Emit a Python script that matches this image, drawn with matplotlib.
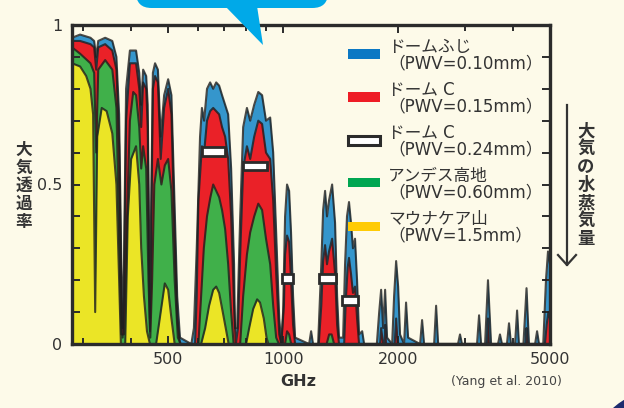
import matplotlib
matplotlib.use("Agg")
import matplotlib.pyplot as plt
from matplotlib.patches import FancyBboxPatch, Polygon, Rectangle, Circle
from matplotlib.ticker import FixedLocator, NullFormatter

plt.rcParams["font.family"] = ["DejaVu Sans", "Noto Sans CJK JP"]

# ---- data (frequency in GHz, transmission 0-1) ----
freq_fuji = [280, 294, 313, 320, 324, 328, 342, 357, 366, 372, 377, 380, 383, 388,
             397, 412, 420, 425, 430, 438, 442, 445, 448, 451, 456, 462, 470, 478,
             488, 500, 510, 518, 528, 537, 575, 584, 594, 606, 613, 621, 632, 644,
             656, 668, 680, 692, 705, 718, 731, 744, 748, 758, 772, 786, 804, 820,
             840, 861, 881, 902, 925, 942, 959, 977, 989, 1000, 1012, 1024, 1037,
             1049, 1062, 1075, 1170, 1184, 1198, 1235, 1259, 1273, 1288, 1303, 1319,
             1344, 1368, 1385, 1401, 1436, 1453, 1470, 1488, 1506, 1524, 1543, 1562,
             1581, 1611, 1630, 1760, 1785, 1806, 1828, 1850, 1872, 1930, 1953, 1977,
             2001, 2024, 2074, 2099, 2125, 2284, 2312, 2340, 2486, 2516, 2547, 2871,
             2906, 2941, 3220, 3260, 3300, 3380, 3440, 3505, 3654, 3698, 3743, 3857,
             3905, 3952, 4050, 4100, 4146, 4260, 4340, 4405, 4570, 4625, 4680, 4800,
             4880, 4940, 5000]
trans_fuji = [0.96, 0.97, 0.96, 0.95, 0.90, 0.95, 0.96, 0.95, 0.90, 0.72, 0.25, 0.05,
              0.25, 0.80, 0.92, 0.92, 0.85, 0.75, 0.86, 0.84, 0.75, 0.40, 0.08, 0.40,
              0.85, 0.88, 0.86, 0.65, 0.78, 0.83, 0.78, 0.50, 0.15, 0.02, 0.0, 0.05,
              0.30, 0.65, 0.74, 0.70, 0.80, 0.82, 0.80, 0.82, 0.81, 0.78, 0.75, 0.72,
              0.55, 0.25, 0.05, 0.05, 0.40, 0.68, 0.74, 0.70, 0.75, 0.79, 0.78, 0.70,
              0.71, 0.60, 0.35, 0.08, 0.0, 0.10, 0.40, 0.50, 0.48, 0.35, 0.15, 0.02,
              0.0, 0.04, 0.0, 0.0, 0.25, 0.42, 0.48, 0.40, 0.45, 0.50, 0.38, 0.15,
              0.02, 0.02, 0.25, 0.40, 0.445, 0.38, 0.30, 0.33, 0.20, 0.03, 0.04, 0.0,
              0.0, 0.10, 0.17, 0.05, 0.17, 0.02, 0.0, 0.15, 0.26, 0.18, 0.03, 0.0,
              0.13, 0.02, 0.0, 0.075, 0.0, 0.0, 0.12, 0.0, 0.0, 0.03, 0.0, 0.0, 0.09,
              0.0, 0.0, 0.20, 0.0, 0.0, 0.03, 0.0, 0.0, 0.065, 0.0, 0.0, 0.105, 0.0,
              0.0, 0.175, 0.0, 0.0, 0.04, 0.0, 0.0, 0.20, 0.29, 0.25]

freq_domec = [280, 294, 313, 320, 324, 328, 342, 357, 366, 372, 377, 380, 383, 388,
              397, 412, 420, 425, 430, 438, 442, 445, 448, 451, 456, 462, 470, 478,
              488, 500, 510, 518, 528, 537, 588, 594, 600, 613, 621, 632, 644, 656,
              668, 680, 692, 705, 718, 731, 744, 752, 762, 772, 786, 804, 820, 840,
              861, 881, 902, 925, 942, 959, 977, 989, 1005, 1012, 1024, 1037, 1049,
              1062, 1075, 1240, 1259, 1273, 1288, 1303, 1319, 1344, 1368, 1385, 1401,
              1445, 1460, 1476, 1488, 1506, 1524, 1543, 1562, 1581, 1795, 1806, 1828,
              1845, 1850, 1860, 1960, 1977, 1995, 3420, 3440, 3460, 4320, 4340, 4360,
              4850, 4900, 4950, 5000]
trans_domec = [0.95, 0.95, 0.94, 0.93, 0.86, 0.93, 0.94, 0.92, 0.86, 0.62, 0.15,
               0.02, 0.15, 0.70, 0.88, 0.88, 0.80, 0.68, 0.82, 0.80, 0.68, 0.30, 0.04,
               0.30, 0.80, 0.84, 0.82, 0.58, 0.74, 0.80, 0.72, 0.40, 0.08, 0.0, 0.0,
               0.15, 0.45, 0.62, 0.60, 0.70, 0.73, 0.74, 0.73, 0.72, 0.68, 0.65, 0.58,
               0.40, 0.12, 0.0, 0.05, 0.28, 0.55, 0.62, 0.58, 0.65, 0.70, 0.69, 0.60,
               0.58, 0.45, 0.22, 0.03, 0.0, 0.12, 0.28, 0.34, 0.32, 0.20, 0.06, 0.0,
               0.0, 0.12, 0.26, 0.31, 0.25, 0.29, 0.33, 0.22, 0.06, 0.0, 0.0, 0.14,
               0.24, 0.27, 0.22, 0.16, 0.18, 0.08, 0.0, 0.0, 0.05, 0.0, 0.0, 0.06, 0.0,
               0.0, 0.08, 0.0, 0.0, 0.08, 0.0, 0.0, 0.05, 0.0, 0.0, 0.06, 0.10, 0.08]

freq_andes = [280, 294, 313, 320, 324, 328, 342, 357, 366, 372, 377, 383, 388, 397,
              405, 412, 420, 425, 430, 438, 444, 449, 454, 460, 470, 480, 490, 500,
              510, 520, 530, 540, 600, 610, 620, 632, 645, 656, 668, 680, 692, 705,
              718, 731, 742, 772, 786, 804, 820, 840, 861, 881, 902, 925, 942, 959,
              975, 1012, 1024, 1037, 1050, 1300, 1320, 1340, 1360, 5000]
trans_andes = [0.93, 0.91, 0.88, 0.85, 0.60, 0.86, 0.89, 0.86, 0.74, 0.35, 0.03,
               0.03, 0.30, 0.70, 0.79, 0.78, 0.68, 0.55, 0.62, 0.55, 0.20, 0.02, 0.20,
               0.50, 0.58, 0.50, 0.56, 0.58, 0.48, 0.20, 0.02, 0.0, 0.0, 0.15, 0.30,
               0.40, 0.46, 0.50, 0.48, 0.46, 0.42, 0.36, 0.25, 0.10, 0.0, 0.0, 0.15,
               0.28, 0.35, 0.40, 0.44, 0.42, 0.33, 0.25, 0.12, 0.02, 0.0, 0.0, 0.04,
               0.03, 0.0, 0.0, 0.03, 0.03, 0.0, 0.0]

freq_mk = [280, 294, 305, 313, 318, 322, 326, 335, 345, 357, 366, 372, 376, 386,
           392, 400, 412, 420, 425, 432, 440, 448, 465, 478, 490, 500, 510, 520, 610,
           625, 640, 656, 668, 680, 695, 710, 720, 800, 815, 835, 855, 870, 890, 905,
           915, 5000]
trans_mk = [0.88, 0.87, 0.84, 0.80, 0.72, 0.10, 0.65, 0.74, 0.73, 0.66, 0.50, 0.20,
            0.0, 0.0, 0.40, 0.58, 0.62, 0.50, 0.30, 0.15, 0.04, 0.0, 0.0, 0.10, 0.19,
            0.17, 0.08, 0.0, 0.0, 0.05, 0.12, 0.17, 0.18, 0.16, 0.10, 0.04, 0.0, 0.0,
            0.05, 0.11, 0.14, 0.13, 0.08, 0.02, 0.0, 0.0]

# Dome C, PWV=0.24mm: window edges and peak transmission (white boxes)
win_lo = [614, 786, 994, 1242, 1427]
win_hi = [705, 908, 1062, 1376, 1571]
win_val = [0.602, 0.558, 0.204, 0.204, 0.135]

labels = ["ドームふじ\n（PWV=0.10mm）", "ドーム C\n（PWV=0.15mm）",
          "ドーム C\n（PWV=0.24mm）", "アンデス高地\n（PWV=0.60mm）",
          "マウナケア山\n（PWV=1.5mm）"]

bg = "#fdfae9"
ink = "#2b2b2b"
txt = "#333333"
fill_cols = ["#3596cc", "#ea2128", "#40b04a", "#ebe526"]
legend_cols = ["#0b78c4", "#ee1c25", "white", "#00a651", "#ffcb05"]

fig = plt.figure(figsize=(6.24, 4.08), dpi=100, facecolor=bg)
W, H = 624.0, 408.0
ax = fig.add_axes([72 / W, 1 - 344 / H, 478 / W, 319 / H], facecolor=bg)

series = [(freq_fuji, trans_fuji), (freq_domec, trans_domec),
          (freq_andes, trans_andes), (freq_mk, trans_mk)]
for (f, t), c in zip(series, fill_cols):
    ax.fill_between(f, 0, t, color=c, lw=0)
    ax.plot(f, t, color="#1e1e1e", lw=1.5, alpha=0.8)

ax.bar(win_lo, 0.028, width=[h - l for l, h in zip(win_lo, win_hi)],
       bottom=[v - 0.014 for v in win_val], align="edge",
       color="white", edgecolor=ink, linewidth=2.0, zorder=4)

ax.set_xscale("log")
ax.set_xlim(280, 5000)
ax.set_ylim(0, 1)

ax.xaxis.set_major_locator(FixedLocator([500, 1000, 2000, 5000]))
ax.xaxis.set_minor_locator(FixedLocator([300, 400, 600, 700, 800, 900, 3000, 4000]))
ax.xaxis.set_minor_formatter(NullFormatter())
ax.set_xticklabels(["500", "1000", "2000", "5000"])
ax.yaxis.set_major_locator(FixedLocator([i / 10 for i in range(11)]))
ax.set_yticklabels(["0", "", "", "", "", "0.5", "", "", "", "", "1"])

ax.tick_params(which="both", direction="in", top=True, right=True,
               width=1.4, color=ink, labelcolor=txt, labelsize=11.5)
ax.tick_params(which="major", length=6)
ax.tick_params(which="minor", length=4)
ax.tick_params(axis="x", pad=6)
ax.tick_params(axis="y", pad=7)
for s in ax.spines.values():
    s.set_linewidth(2.4)
    s.set_color(ink)

fig.text(298 / W, 1 - 381 / H, "GHz", ha="center", va="center",
         fontsize=11.5, fontweight="bold", color=txt)
fig.text(506 / W, 1 - 382 / H, "(Yang et al. 2010)", ha="center", va="center",
         fontsize=9, color="#444444")

# vertical labels
fig.text(24 / W, 1 - 186 / H, "\n".join("大気透過率"), ha="center", va="center",
         fontsize=12, fontweight="bold", color=txt, linespacing=1.0)
fig.text(586 / W, 1 - 185 / H, "\n".join("大気の水蒸気量"), ha="center", va="center",
         fontsize=12.5, fontweight="bold", color=txt, linespacing=1.0)
fig.add_artist(plt.Line2D([567 / W, 567 / W], [1 - 105 / H, 1 - 265 / H],
                          color=txt, lw=1.6))
fig.add_artist(plt.Line2D([558 / W, 567 / W, 576 / W],
                          [1 - 255 / H, 1 - 265 / H, 1 - 255 / H],
                          color=txt, lw=1.6))

# legend
for i, (lab, col) in enumerate(zip(labels, legend_cols)):
    yc = 54 + i * 43
    ec = ink if col == "white" else col
    fig.add_artist(Rectangle((348 / W, 1 - (yc + 4.5) / H), 32 / W, 9 / H,
                             facecolor=col, edgecolor=ec,
                             linewidth=2.2 if col == "white" else 0))
    fig.text(388 / W, 1 - (yc + 1) / H, lab, ha="left", va="center",
             fontsize=12, color=txt, linespacing=0.92)

# speech bubble at top and corner decoration
bubble = FancyBboxPatch((136 / W, 1 - 8 / H), 192 / W, 30 / H,
                        boxstyle="round,pad=0,rounding_size=0.025",
                        facecolor="#00a9e8", edgecolor="none", zorder=10,
                        transform=fig.transFigure, mutation_aspect=W / H)
fig.add_artist(bubble)
fig.add_artist(Polygon([(225 / W, 1 - 6 / H), (257 / W, 1 - 6 / H),
                        (263 / W, 1 - 45 / H)], closed=True,
                       facecolor="#00a9e8", edgecolor="none", zorder=10))
fig.add_artist(Circle((655, -45), 61.5, transform=None, facecolor="#1d2b6e",
                      edgecolor="none"))

fig.savefig("out.png", dpi=100, facecolor=bg)
